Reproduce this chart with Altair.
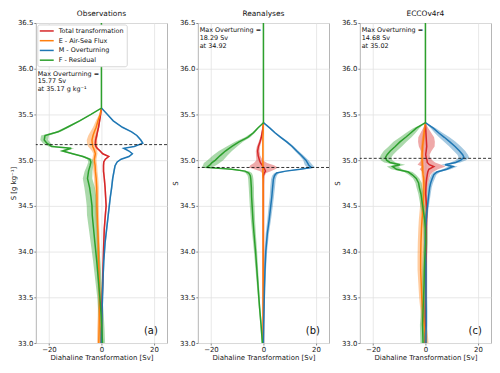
import altair as alt
import pandas as pd

SERIES = ["Total transformation", "E - Air-Sea Flux", "M - Overturning", "F - Residual"]
COLORS = ["#d62728", "#ff7f0e", "#1f77b4", "#2ca02c"]

TITLES = ["Observations", "Reanalyses", "ECCOv4r4"]
PANEL_LABELS = ["(a)", "(b)", "(c)"]
MAX_SV = [15.77, 18.29, 14.68]
MAX_S = [35.17, 34.92, 35.02]
X_TICKS = [-20, -10, 0, 10, 20]
Y_TICKS = [33.0, 33.5, 34.0, 34.5, 35.0, 35.5, 36.0, 36.5]
N = None  # above the convergence point only the residual line is visible

# ---------------- Observations ----------------
S_OBS = [36.5, 35.57, 35.5, 35.43, 35.36, 35.31, 35.27, 35.22, 35.185, 35.15, 35.13, 35.10, 35.07, 35.04,
         35.01, 34.98, 34.94, 34.88, 34.80, 34.70, 34.60, 34.50, 34.40, 34.25, 34.10, 33.90, 33.70, 33.50,
         33.30, 33.15, 33.0]
OBS_TOTAL = [N, 0, -0.3, -0.7, -1.1, -1.5, -1.8, -2.2, -2.3, -2.1, -1.6, -0.5, 0.5, 2.8, 1.5, 0.9, 0.8, 0.8,
             1.1, 1.4, 1.6, 1.8, 1.5, 1.1, 0.9, 0.7, 0.5, 0.3, 0.1, 0.0, 0.0]
OBS_E = [N, 0, -0.5, -1.3, -2.0, -2.7, -3.2, -3.6, -3.5, -3.3, -3.0, -2.6, -2.3, -2.5, -2.7, -2.6, -2.4, -2.3,
         -2.0, -1.8, -1.7, -1.7, -1.6, -1.4, -1.2, -1.1, -0.9, -0.7, -0.8, -0.9, -1.0]
OBS_M = [N, 0, 2.3, 4.5, 8.0, 11.5, 13.5, 15.0, 15.77, 12.5, 8.5, 10.5, 11.8, 10.5, 7.5, 6.0, 5.2, 4.8, 4.3,
         3.9, 3.4, 3.0, 2.6, 2.0, 1.4, 0.9, 0.6, 0.4, 0.2, 0.1, 0.0]
OBS_F = [0, 0, -4.0, -8.3, -13.0, -16.5, -21.5, -21.8, -20.8, -19.0, -11.5, -14.8, -11.0, -7.0, -4.4, -4.0,
         -4.3, -4.9, -5.3, -4.5, -4.0, -3.6, -3.5, -3.0, -2.5, -1.8, -1.2, -0.6, -0.1, 0.2, 0.4]
OBS_TOTAL_SD = [0, 0, 0.2, 0.3, 0.3, 0.3, 0.4, 0.4, 0.4, 0.4, 0.4, 0.4, 0.4, 0.4, 0.3, 0.3, 0.3, 0.3, 0.3,
                0.3, 0.3, 0.3, 0.3, 0.3, 0.3, 0.3, 0.3, 0.3, 0.3, 0.3, 0.3]
OBS_E_SD = [0, 0, 0.4, 0.8, 1.2, 1.5, 1.8, 2.0, 2.0, 1.8, 1.5, 1.0, 0.8, 0.8, 0.8, 0.8, 0.8, 0.8, 0.8, 0.8,
            0.7, 0.7, 0.7, 0.6, 0.6, 0.6, 0.6, 0.6, 0.6, 0.7, 0.7]
OBS_M_SD = [0, 0, 0.2, 0.2, 0.3, 0.3, 0.3, 0.3, 0.3, 0.3, 0.3, 0.3, 0.3, 0.3, 0.3, 0.3, 0.3, 0.3, 0.3, 0.3,
            0.3, 0.3, 0.3, 0.3, 0.3, 0.3, 0.3, 0.3, 0.3, 0.3, 0.3]
OBS_F_SD = [0, 0, 0.3, 0.5, 0.8, 1.0, 1.5, 1.5, 1.5, 1.2, 1.2, 1.2, 1.0, 1.0, 1.0, 1.0, 1.2, 1.5, 1.8, 2.0,
            2.0, 2.0, 2.0, 1.8, 1.6, 1.4, 1.2, 1.0, 1.0, 1.0, 1.0]

# ---------------- Reanalyses ----------------
S_REA = [36.5, 35.41, 35.35, 35.30, 35.25, 35.20, 35.15, 35.10, 35.05, 35.00, 34.97, 34.945, 34.92, 34.90,
         34.88, 34.86, 34.83, 34.79, 34.70, 34.60, 34.50, 34.35, 34.20, 34.00, 33.80, 33.60, 33.40, 33.20, 33.0]
REA_TOTAL = [N, 0, -0.2, -0.5, -0.8, -1.3, -1.9, -2.2, -2.0, -1.5, -1.1, -0.5, 0.0, 0.5, 0.8, 0.3, 0.0, 0.0,
             0, 0, 0, 0, 0, 0, 0, 0, 0, 0, 0]
REA_E = [N, 0, -0.1, -0.1, -0.2, -0.2, -0.2, -0.2, -0.2, -0.2, -0.2, -0.2, -0.2, -0.2, -0.2, -0.2, -0.2,
         -0.1, -0.1, -0.1, -0.1, -0.1, -0.1, -0.1, -0.1, -0.1, -0.1, -0.1, -0.1]
REA_M = [N, 0, 2.5, 4.4, 6.6, 8.9, 11.0, 12.7, 14.5, 16.2, 16.8, 17.3, 18.29, 14.0, 8.5, 5.0, 4.2, 3.8, 3.5,
         3.2, 2.8, 2.2, 1.5, 0.9, 0.6, 0.4, 0.25, 0.1, 0.0]
REA_F = [0, 0, -2.2, -3.8, -6.0, -9.3, -12.0, -14.5, -16.5, -18.3, -19.7, -20.5, -21.6, -12.0, -7.0, -5.6,
         -5.0, -4.8, -4.6, -4.5, -4.3, -4.0, -3.6, -3.0, -2.5, -2.0, -1.5, -0.9, -0.4]
REA_TOTAL_SD = [0, 0, 0.2, 0.3, 0.4, 0.5, 0.6, 0.7, 0.8, 1.2, 2.5, 4.5, 5.5, 4.0, 2.0, 0.8, 0.4, 0.3, 0.2,
                0.2, 0.2, 0.2, 0.2, 0.2, 0.2, 0.2, 0.2, 0.2, 0.2]
REA_E_SD = [0, 0, 0.3, 0.3, 0.3, 0.3, 0.3, 0.3, 0.3, 0.3, 0.3, 0.3, 0.3, 0.3, 0.3, 0.3, 0.3, 0.3, 0.3, 0.3,
            0.3, 0.3, 0.3, 0.3, 0.3, 0.3, 0.3, 0.3, 0.3]
REA_M_SD = [0, 0, 0.3, 0.4, 0.5, 0.6, 0.6, 0.7, 0.8, 1.0, 1.3, 1.5, 1.5, 1.3, 1.0, 0.9, 0.9, 0.9, 0.9, 0.8,
            0.8, 0.7, 0.6, 0.5, 0.4, 0.3, 0.3, 0.2, 0.2]
REA_F_SD = [0, 0, 0.3, 0.6, 1.0, 1.5, 2.0, 2.5, 2.8, 3.0, 3.0, 2.5, 2.0, 1.8, 1.5, 1.2, 1.0, 1.0, 1.0, 0.9,
            0.9, 0.8, 0.7, 0.6, 0.5, 0.4, 0.3, 0.3, 0.3]

# ---------------- ECCOv4r4 ----------------
S_ECCO = [36.5, 35.41, 35.35, 35.30, 35.25, 35.20, 35.15, 35.10, 35.06, 35.03, 35.00, 34.975, 34.95, 34.93,
          34.90, 34.87, 34.84, 34.80, 34.75, 34.70, 34.63, 34.55, 34.45, 34.35, 34.25, 34.10, 33.95, 33.80,
          33.65, 33.50, 33.35, 33.20, 33.10, 33.0]
ECCO_TOTAL = [N, 0, 0.1, 0.2, 0.3, 0.4, 0.5, 0.3, 0.1, 0.3, 0.6, 0.7, 1.5, 3.2, 1.3, 0.9, 0.7, 0.5, 0.3, 0.2,
              0.1, 0.3, 0.5, 0.4, 0.3, 0.2, 0.2, 0.1, 0.1, 0.1, 0.0, 0.0, 0.0, 0.0]
ECCO_E = [N, 0, -0.3, -0.5, -0.7, -0.9, -1.1, -1.2, -1.3, -1.3, -1.3, -1.2, -1.2, -1.1, -1.1, -1.0, -0.9,
          -0.7, -0.6, -0.6, -0.6, -0.8, -1.0, -1.3, -1.5, -1.7, -1.8, -1.8, -1.6, -1.4, -1.0, -0.5, 0.0, 0.3]
ECCO_M = [N, 0, 3.0, 5.0, 7.2, 9.3, 11.3, 13.0, 14.2, 14.68, 13.5, 11.5, 7.5, 10.5, 8.1, 4.4, 3.2, 2.6, 2.0,
          1.6, 1.3, 1.0, 0.6, 0.3, 0.1, 0.0, 0.1, 0.2, 0.2, 0.2, 0.3, 0.3, 0.2, 0.2]
ECCO_F = [0, 0, -3.5, -5.5, -7.5, -9.7, -11.5, -13.4, -14.6, -15.2, -14.8, -13.5, -9.7, -12.5, -11.0, -6.5,
          -5.0, -3.5, -2.6, -2.3, -1.7, -1.3, -0.8, -0.3, 0.0, 0.1, -0.2, -0.4, -0.5, -0.7, -0.9, -1.1, -1.0, -0.9]
ECCO_TOTAL_SD = [0, 0, 1.0, 2.0, 3.0, 3.2, 3.0, 2.0, 1.5, 1.5, 2.0, 3.0, 4.5, 4.5, 3.5, 2.0, 1.2, 1.0, 0.8,
                 0.6, 0.5, 0.5, 0.5, 0.5, 0.5, 0.5, 0.5, 0.5, 0.5, 0.5, 0.5, 0.5, 0.5, 0.5]
ECCO_E_SD = [0, 0, 0.4, 0.5, 0.6, 0.6, 0.6, 0.6, 0.6, 0.6, 0.6, 0.6, 0.6, 0.6, 0.6, 0.6, 0.6, 0.7, 0.8, 0.9,
             1.0, 1.1, 1.2, 1.2, 1.2, 1.2, 1.2, 1.2, 1.1, 1.0, 0.9, 0.9, 0.9, 0.9]
ECCO_M_SD = [0, 0, 1.0, 1.5, 2.0, 2.2, 2.2, 2.2, 2.0, 2.0, 2.0, 1.8, 1.5, 1.8, 1.5, 1.2, 1.0, 1.0, 0.9, 0.8,
             0.7, 0.6, 0.5, 0.5, 0.5, 0.5, 0.5, 0.5, 0.5, 0.5, 0.5, 0.5, 0.5, 0.5]
ECCO_F_SD = [0, 0, 1.2, 1.8, 2.2, 2.5, 2.5, 2.5, 2.3, 2.2, 2.2, 2.2, 2.0, 2.2, 2.0, 1.6, 1.4, 1.2, 1.2, 1.1,
             1.0, 0.9, 0.8, 0.8, 0.8, 0.8, 0.8, 0.8, 0.8, 0.8, 0.8, 1.0, 1.0, 1.0]


def panel_df(S, vals, sds):
    rows = []
    for name, v, sd in zip(SERIES, vals, sds):
        for s, x, e in zip(S, v, sd):
            if x is None:
                continue
            rows.append({"S": s, "value": x, "lo": x - e, "hi": x + e, "series": name})
    return pd.DataFrame(rows)


PANELS = [
    panel_df(S_OBS, [OBS_TOTAL, OBS_E, OBS_M, OBS_F], [OBS_TOTAL_SD, OBS_E_SD, OBS_M_SD, OBS_F_SD]),
    panel_df(S_REA, [REA_TOTAL, REA_E, REA_M, REA_F], [REA_TOTAL_SD, REA_E_SD, REA_M_SD, REA_F_SD]),
    panel_df(S_ECCO, [ECCO_TOTAL, ECCO_E, ECCO_M, ECCO_F], [ECCO_TOTAL_SD, ECCO_E_SD, ECCO_M_SD, ECCO_F_SD]),
]

YTITLES = ["S [g kg\u207b\u00b9]", "S", "S"]
ANNOT = [
    "Max Overturning =\n%.2f Sv\nat %.2f g kg\u207b\u00b9" % (MAX_SV[0], MAX_S[0]),
    "Max Overturning =\n%.2f Sv\nat %.2f" % (MAX_SV[1], MAX_S[1]),
    "Max Overturning =\n%.2f Sv\nat %.2f" % (MAX_SV[2], MAX_S[2]),
]
ANNOT_Y = [35.98, 36.46, 36.46]

W, H = 132, 322


def legend_layers():
    one = pd.DataFrame({"k": [0]})
    out = [
        alt.Chart(one).mark_rect(fill="white", stroke="#cccccc", strokeWidth=0.8, cornerRadius=2).encode(
            x=alt.value(2), x2=alt.value(92), y=alt.value(2), y2=alt.value(44))
    ]
    for k, (name, col) in enumerate(zip(SERIES, COLORS)):
        yk = 8 + 9.8 * k
        out.append(alt.Chart(one).mark_rule(color=col, strokeWidth=1.5).encode(
            x=alt.value(4), x2=alt.value(18), y=alt.value(yk)))
        out.append(alt.Chart(one).mark_text(align="left", baseline="middle", fontSize=6.5,
                                            color="#111").encode(
            x=alt.value(23), y=alt.value(yk), text=alt.value(name)))
    return out


def make_panel(i):
    df = PANELS[i]
    xs = alt.Scale(domain=[-25, 25], nice=False, zero=False)
    ys = alt.Scale(domain=[33.0, 36.5], nice=False, zero=False)
    xaxis = alt.Axis(title="Diahaline Transformation [Sv]", values=X_TICKS,
                     labelExpr="replace(format(datum.value, 'd'), '-', '\u2212')")
    yaxis = alt.Axis(title=YTITLES[i], values=Y_TICKS, format=".1f")
    cscale = alt.Scale(domain=SERIES, range=COLORS)

    layers = []
    for name in SERIES:
        layers.append(
            alt.Chart(df).transform_filter(alt.datum.series == name)
            .mark_area(orient="horizontal", opacity=0.4)
            .encode(
                y=alt.Y("S:Q", scale=ys, axis=yaxis, sort=None),
                x=alt.X("lo:Q", scale=xs, axis=xaxis, stack=None),
                x2="hi:Q",
                fill=alt.Fill("series:N", scale=cscale, legend=None),
            )
        )
    for name in SERIES:
        layers.append(
            alt.Chart(df).transform_filter(alt.datum.series == name)
            .mark_line(strokeWidth=1.5)
            .encode(
                y=alt.Y("S:Q", scale=ys, axis=yaxis),
                x=alt.X("value:Q", scale=xs, axis=xaxis),
                color=alt.Color("series:N", scale=cscale, legend=None),
                order=alt.Order("S:Q"),
            )
        )
    rule = alt.Chart(pd.DataFrame({"S": [MAX_S[i]]})).mark_rule(
        color="black", strokeDash=[3, 2], strokeWidth=0.8).encode(y=alt.Y("S:Q", scale=ys))
    txt = alt.Chart(pd.DataFrame({"x": [-24.3], "y": [ANNOT_Y[i]], "t": [ANNOT[i]]})).mark_text(
        align="left", baseline="top", fontSize=6.5, lineHeight=8, lineBreak="\n", color="#111"
    ).encode(x=alt.X("x:Q", scale=xs), y=alt.Y("y:Q", scale=ys), text="t:N")
    lab = alt.Chart(pd.DataFrame({"x": [21.5], "y": [33.13], "t": [PANEL_LABELS[i]]})).mark_text(
        align="right", baseline="middle", fontSize=10, color="#111"
    ).encode(x=alt.X("x:Q", scale=xs), y=alt.Y("y:Q", scale=ys), text="t:N")
    layers += [rule, txt, lab]
    if i == 0:
        layers += legend_layers()

    return alt.layer(*layers).properties(
        width=W, height=H,
        title=alt.Title(TITLES[i], fontSize=7.5, fontWeight="normal", offset=2, color="#111"),
    )


chart = alt.hconcat(make_panel(0), make_panel(1), make_panel(2), spacing=2).resolve_scale(
    color="independent", fill="independent"
).properties(
    padding=0
).configure(
    font="DejaVu Sans"
).configure_view(
    stroke="#b5b5b5", strokeWidth=1
).configure_axis(
    grid=True, gridColor="#e2e2e2", gridWidth=0.8, domain=False,
    tickSize=2, tickColor="#888", labelFontSize=7, titleFontSize=7,
    labelPadding=1, titlePadding=1, titleFontWeight="normal",
    labelColor="#222", titleColor="#222",
)

chart.save("out.html", embed_options={"renderer": "svg", "actions": False})
